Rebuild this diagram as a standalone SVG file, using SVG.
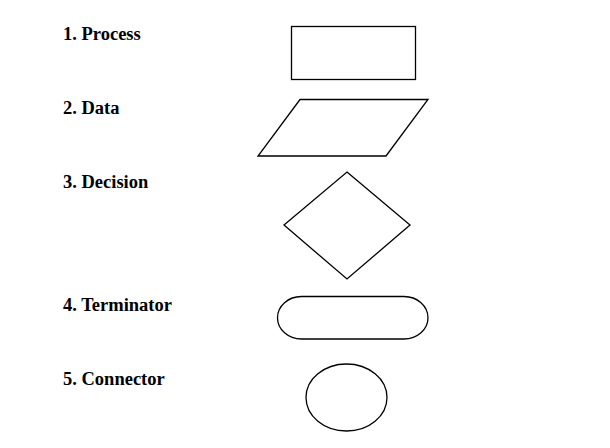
<svg xmlns="http://www.w3.org/2000/svg" width="610" height="448" viewBox="0 0 610 448">
<style>
.lbl{font-family:"Liberation Serif","Times New Roman",serif;font-weight:bold;font-size:18.5px;fill:#000}
.shp{fill:#fff;stroke:#000;stroke-width:1.3}
</style>
<rect width="610" height="448" fill="#fff"/>
<g id="process"><text class="lbl" x="63" y="40">1. Process</text><rect class="shp" x="291.5" y="26.5" width="124" height="53"/></g>
<g id="data"><text class="lbl" x="63" y="114">2. Data</text><polygon class="shp" points="300,99.5 428,99.5 386,156 258,156"/></g>
<g id="decision"><text class="lbl" x="63" y="188">3. Decision</text><polygon class="shp" points="347,172 410,225 347,279 284,225"/></g>
<g id="terminator"><text class="lbl" x="63" y="311">4. Terminator</text><rect class="shp" x="277.5" y="296.5" width="150.5" height="42.5" rx="24" ry="21.25"/></g>
<g id="connector"><text class="lbl" x="63" y="385">5. Connector</text><ellipse class="shp" cx="346.5" cy="397.5" rx="40.5" ry="33.5"/></g>
<g id="connectors"></g>
</svg>
